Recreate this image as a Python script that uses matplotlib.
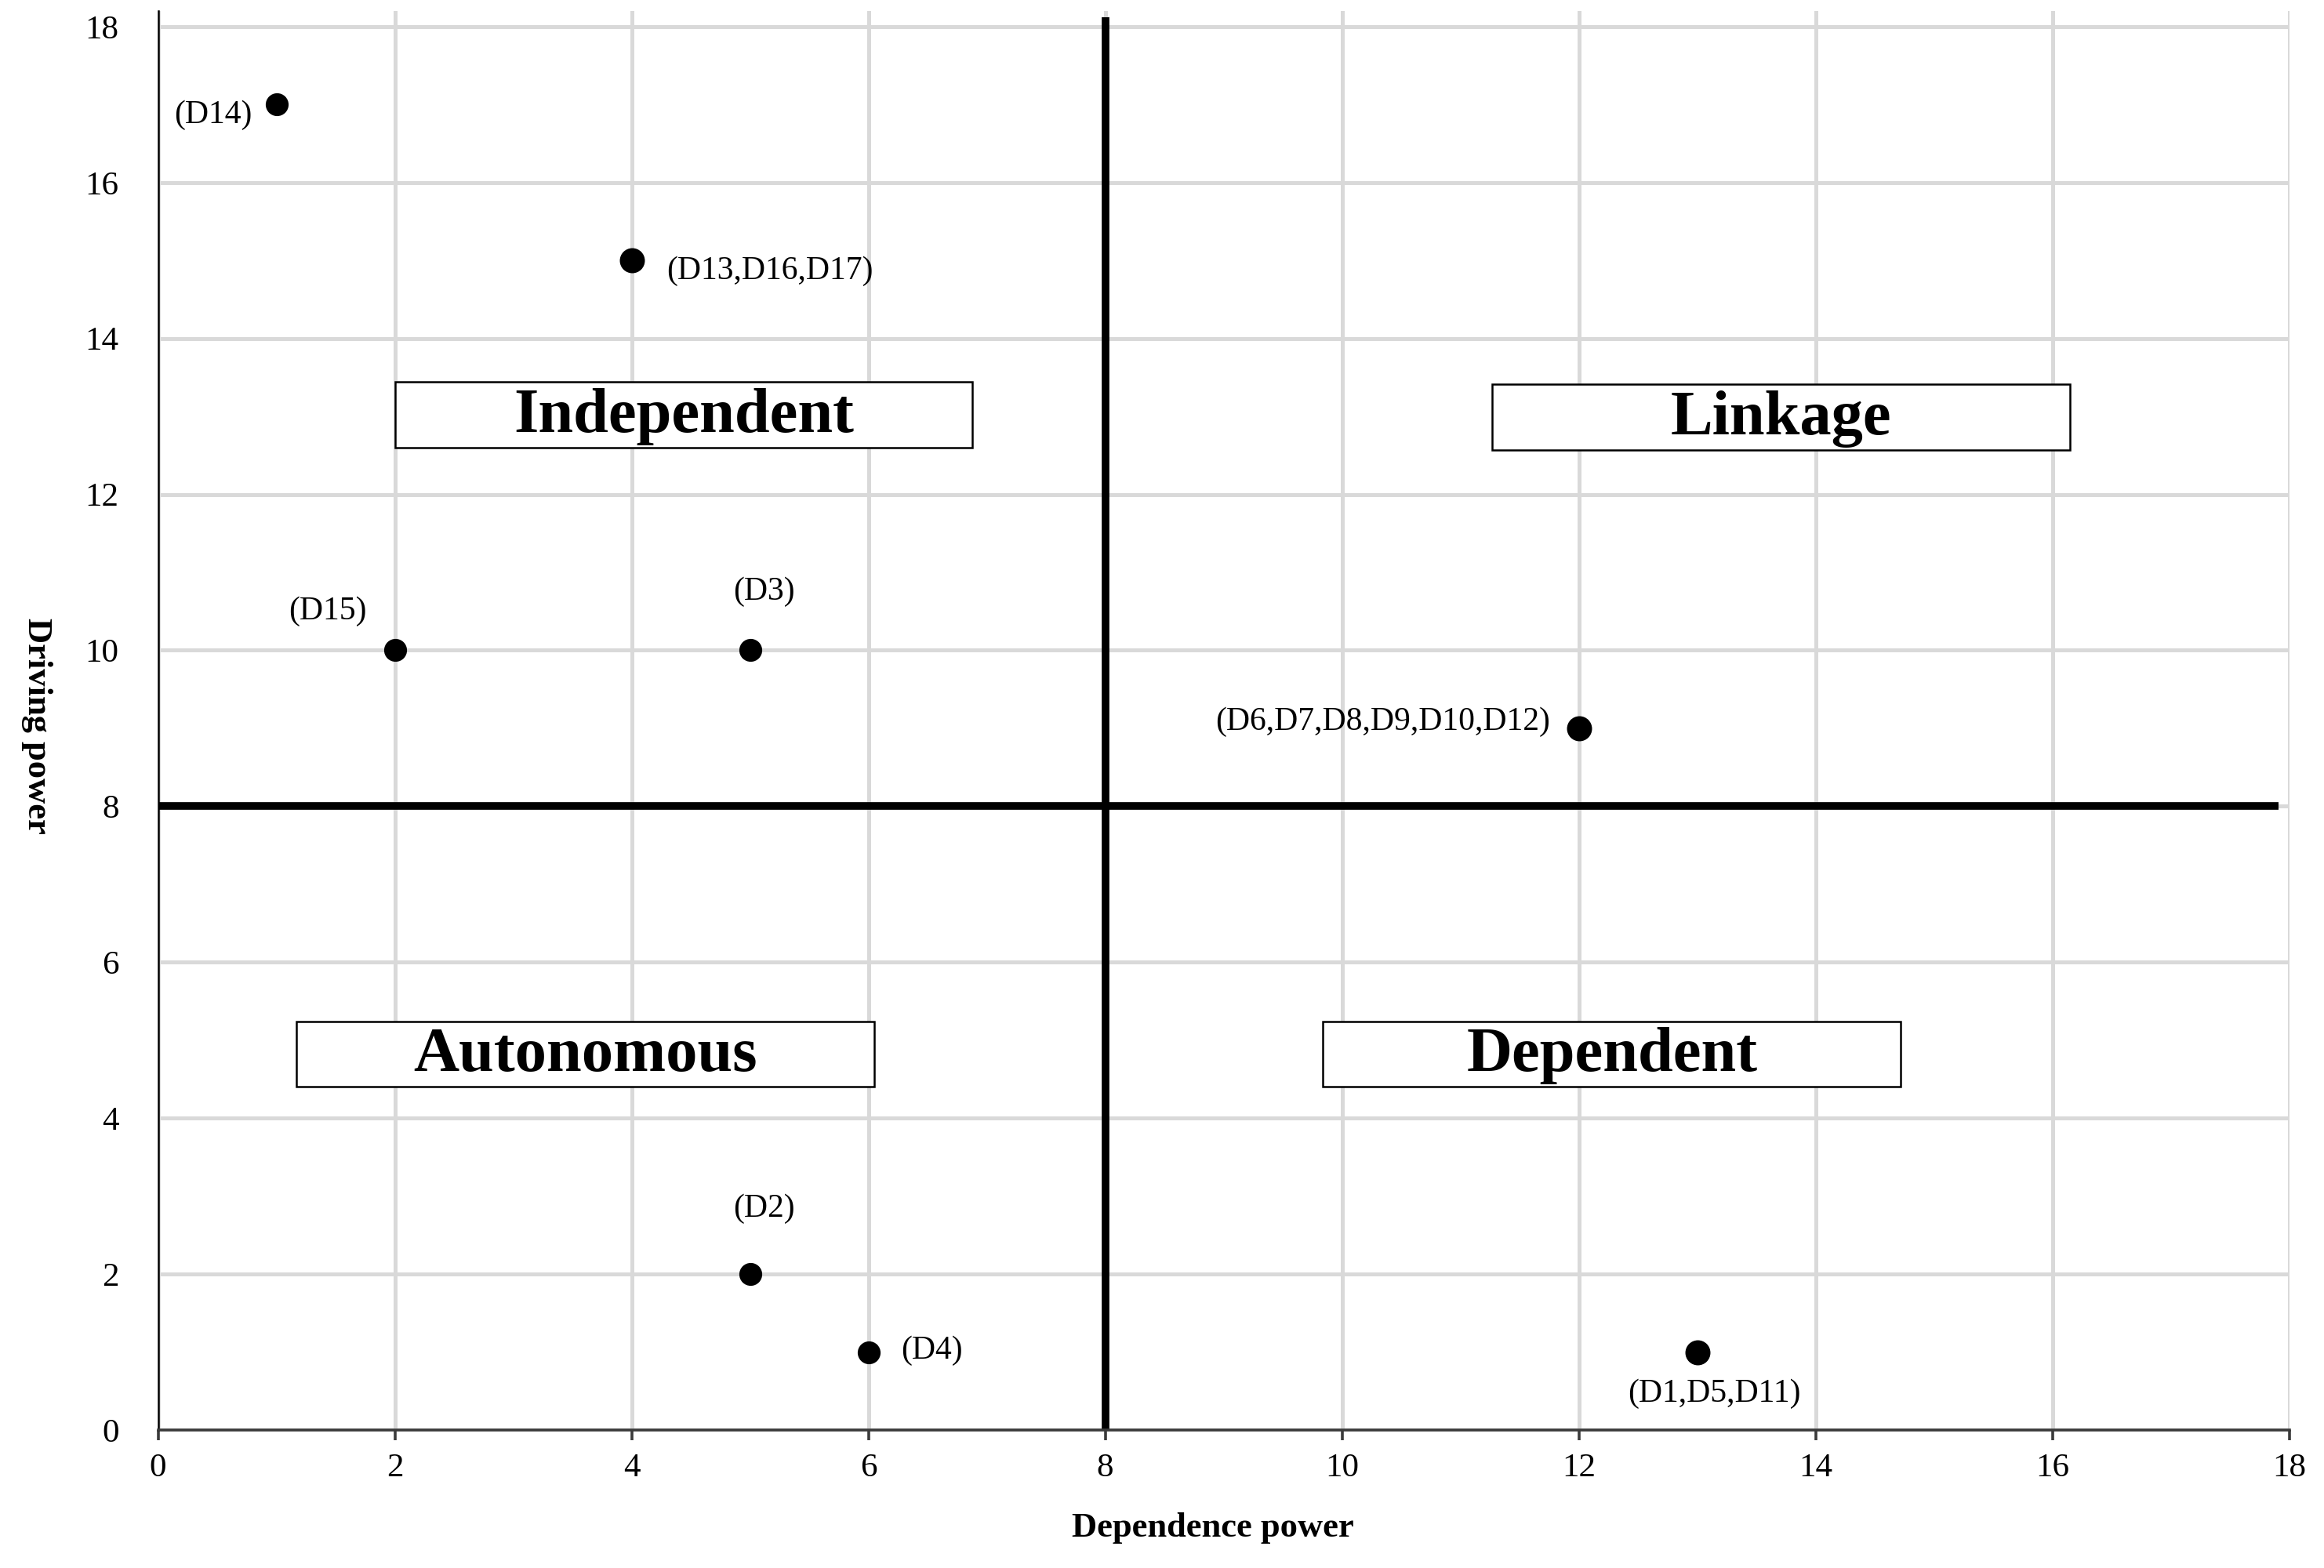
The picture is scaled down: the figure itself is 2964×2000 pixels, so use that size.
import matplotlib
matplotlib.use("Agg")
import matplotlib.pyplot as plt
from matplotlib.patches import Rectangle

plt.rcParams['font.family'] = ['Liberation Serif', 'DejaVu Serif']

# MICMAC points: dependence power (x), driving power (y)
dependence = [1, 4, 2, 5, 12, 5, 6, 13]
driving = [17, 15, 10, 10, 9, 2, 1, 1]
point_labels = ["(D14)", "(D13,D16,D17)", "(D15)", "(D3)",
                "(D6,D7,D8,D9,D10,D12)", "(D2)", "(D4)", "(D1,D5,D11)"]

quadrants = ["Independent", "Linkage", "Autonomous", "Dependent"]
ticks = [0, 2, 4, 6, 8, 10, 12, 14, 16, 18]

# layout only: label offsets in points and alignment
label_offsets = [(-11, -5), (16, -5), (-31, 18), (6.5, 27),
                 (-13, 3), (6.5, 30), (15, 0.5), (8, -19)]
label_align = ["right", "left", "center", "center",
               "right", "center", "left", "center"]
quad_boxes = [(2.0, 12.6), (11.27, 12.57), (1.17, 4.4), (9.84, 4.4)]
box_w, box_h = 4.88, 0.84

fig = plt.figure(figsize=(14.82, 10), dpi=200)
ax = fig.add_axes([0.068, 0.088, 0.917, 0.905])

ax.set_xlim(0, 18)
ax.set_ylim(0, 18.2)
ax.set_xticks(ticks)
ax.set_yticks(ticks)
ax.grid(True, color="#d9d9d9", linewidth=1.8, zorder=0)
ax.set_axisbelow(True)

for side in ["top", "right"]:
    ax.spines[side].set_visible(False)
ax.spines["left"].set_color("black")
ax.spines["left"].set_linewidth(0.9)
ax.spines["bottom"].set_color("#3a3a3a")
ax.spines["bottom"].set_linewidth(1.3)
ax.spines["bottom"].set_zorder(5)

ax.tick_params(axis="y", length=0, pad=18, labelsize=15.5)
ax.tick_params(axis="x", length=4.5, width=1.3, color="#3a3a3a",
               pad=6, labelsize=15.5, direction="out")

# quadrant dividers
ax.plot([8, 8], [0, 18.12], color="black", linewidth=3.5, zorder=3,
        solid_capstyle="butt")
ax.plot([0, 17.91], [8, 8], color="black", linewidth=3.5, zorder=3,
        solid_capstyle="butt")

sizes = [9.5, 10.5, 9.5, 9.5, 10.5, 9.5, 9.5, 10.5]
for x, y, s in zip(dependence, driving, sizes):
    ax.plot(x, y, "o", color="black", markersize=s, zorder=4)

for x, y, lab, off, ha in zip(dependence, driving, point_labels,
                              label_offsets, label_align):
    ax.annotate(lab, (x, y), xytext=off, textcoords="offset points",
                ha=ha, va="center", fontsize=15, zorder=6)

for name, (bx, by) in zip(quadrants, quad_boxes):
    ax.add_patch(Rectangle((bx, by), box_w, box_h, facecolor="white",
                           edgecolor="black", linewidth=0.9, zorder=4))
    ax.text(bx + box_w / 2, by + box_h / 2 - 0.02, name, ha="center",
            va="center", fontsize=29, fontweight="bold", zorder=5)

fig.text(0.522, 0.0255, "Dependence power", ha="center", va="center",
         fontsize=16, fontweight="bold")
fig.text(0.0158, 0.537, "Driving power", ha="center", va="center",
         fontsize=16, fontweight="bold", rotation=270)

fig.savefig("out.png", dpi=200, facecolor="white")
